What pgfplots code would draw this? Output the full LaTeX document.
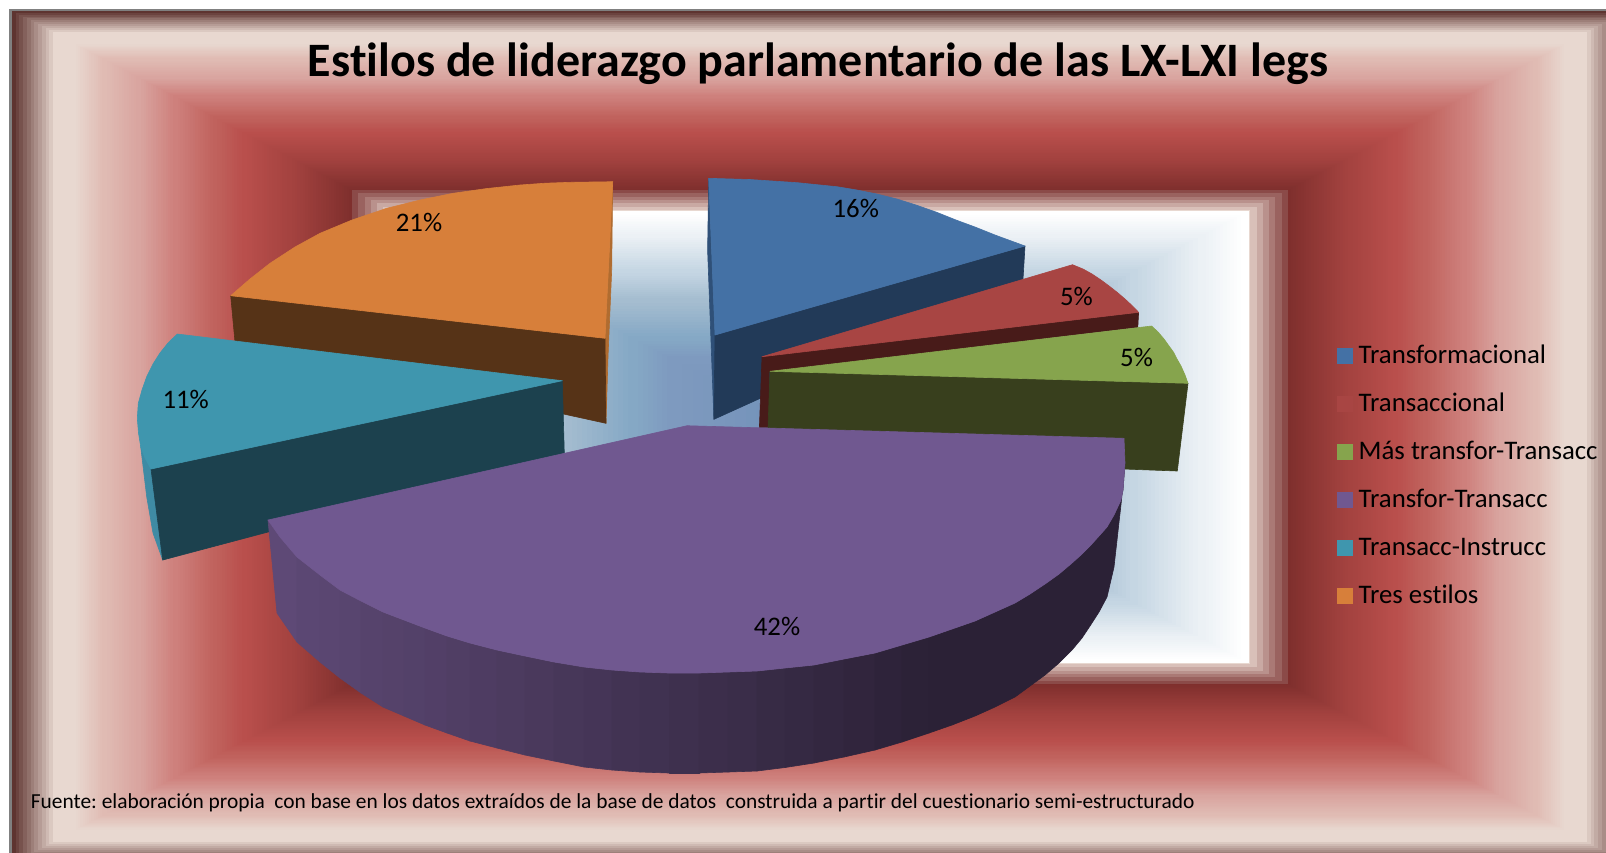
\documentclass[border=0pt]{standalone}
\usepackage{fontspec}
\setmainfont[Ligatures=NoCommon]{Carlito}
\usepackage{pgfplots}
\pgfplotsset{compat=1.18}
\definecolor{bg0}{HTML}{5E3430}\definecolor{bg1}{HTML}{E8D8D0}\definecolor{bg2}{HTML}{E0BBB3}
\definecolor{bg3}{HTML}{D9A5A0}\definecolor{bg4}{HTML}{CE807C}\definecolor{bg5}{HTML}{C0625D}
\definecolor{bg6}{HTML}{B94F4C}\definecolor{bg7}{HTML}{A54340}\definecolor{bg8}{HTML}{7F2F2D}
\definecolor{bg9}{HTML}{8B4A48}\definecolor{w0}{HTML}{FFFFFF}\definecolor{w1}{HTML}{ECF1F5}
\definecolor{w2}{HTML}{C5D6E3}\definecolor{w3}{HTML}{A5BDD0}\definecolor{w4}{HTML}{85A8C5}
\definecolor{w5}{HTML}{7E9ABF}\definecolor{w6}{HTML}{7090B8}
\definecolor{blueT}{HTML}{4471A5}\definecolor{blueS}{HTML}{223A58}\definecolor{blueD}{HTML}{2F5078}
\definecolor{redT}{HTML}{A84543}\definecolor{redS}{HTML}{481B19}
\definecolor{greenT}{HTML}{86A44D}\definecolor{greenS}{HTML}{383F1D}
\definecolor{purT}{HTML}{705890}\definecolor{purL}{HTML}{5E4976}\definecolor{purR}{HTML}{2B2136}
\definecolor{tealT}{HTML}{3F96AE}\definecolor{tealS}{HTML}{1C414E}\definecolor{tealD}{HTML}{3F8BA4}
\definecolor{oraT}{HTML}{D77F3A}\definecolor{oraS}{HTML}{563317}\definecolor{oraD}{HTML}{B06C30}
\pgfplotsset{pie/.style={draw=#1,fill=#1,line width=0.3pt,line join=round,forget plot,mark=none}}
\begin{document}
\frenchspacing
\begin{tikzpicture}
\path[use as bounding box] (0pt,0pt) rectangle (803pt,-426pt);
\begin{scope}[x=0.5pt,y=-0.5pt]
\clip (0,0) rectangle (1606,852);
\fill[white] (0,0) rectangle (1606,852);
\fill[black!50] (9,9) rectangle (1631,865);
\foreach \fa/\fb/\ca/\cb/\n in {
 0.0037/0.059/bg0/bg1/12, 0.059/0.08/bg1/bg1/1, 0.08/0.118/bg1/bg2/14, 0.118/0.16/bg2/bg3/14,
 0.16/0.205/bg3/bg4/15, 0.205/0.254/bg4/bg5/16, 0.254/0.29/bg5/bg6/12, 0.29/0.346/bg6/bg7/18,
 0.346/0.423/bg7/bg8/24, 0.423/0.477/bg9/bg1/7, 0.471/0.477/w0/w0/1,
 0.477/0.529/w0/w1/12, 0.529/0.613/w1/w2/16, 0.613/0.681/w2/w3/14, 0.681/0.77/w3/w4/14,
 0.77/0.817/w4/w5/8, 0.817/1.0/w5/w6/14}{
  \foreach \i in {1,...,\n}{
    \pgfmathsetmacro\f{\fa+(\fb-\fa)*(\i-1)/\n}
    \pgfmathsetmacro\m{100*(\i-1)/max(\n-1,1)}
    \fill[color=\cb!\m!\ca] ({9+811*\f},{9+428*\f}) rectangle ({1631-811*\f},{865-428*\f});
  }
}
\end{scope}
\begin{axis}[
  at={(0pt,0pt)},anchor=north west,scale only axis,width=803pt,height=426pt,
  xmin=0,xmax=1606,ymin=0,ymax=852,y dir=reverse,hide axis,clip=false,
  legend style={at={(axis cs:1336.5,345)},anchor=north west,draw=none,fill=none,inner sep=0pt,
    row sep=12pt,column sep=3pt,font=\fontsize{13.4}{14}\selectfont,
    nodes={inner sep=0pt,text height=9pt,text depth=3pt}},
  legend cell align=left,
  legend image code/.code={\fill[#1] (0pt,-2.75pt) rectangle (7.5pt,4.75pt);}]
\addlegendimage{blueT}\addlegendentry{Transformacional}
\addlegendimage{redT}\addlegendentry{Transaccional}
\addlegendimage{greenT}\addlegendentry{Más transfor-Transacc}
\addlegendimage{purT}\addlegendentry{Transfor-Transacc}
\addlegendimage{tealT}\addlegendentry{Transacc-Instrucc}
\addlegendimage{oraT}\addlegendentry{Tres estilos}
% orange
\addplot[pie=oraD] coordinates {(612.7,181.7)(611.7,270)(608,357)(606,423.3)(605,338.3)} -- cycle;
\addplot[pie=oraS] coordinates {(230.7,295.7)(235,342)(606,423.3)(605,338.3)} -- cycle;
\addplot[pie=oraT] coordinates {(605,338.3)(230.7,295.7)(250,279)(270,263.3)(295,247)(320,233.3)(352,220)(386.7,208.3)(420,200)(453,193.3)(487,188.5)(520,185)(545,183.2)(570,182.3)(612.7,181.7)} -- cycle;
% blue
\addplot[pie=blueD] coordinates {(708.7,178.3)(707.6,250)(713.9,419.3)(715,335)} -- cycle;
\addplot[pie=blueS] coordinates {(715,335)(1025,246)(1023,279.3)(713.9,419.3)} -- cycle;
\addplot[pie=blueT] coordinates {(715,335)(708.7,178.3)(750,179.5)(797.7,182.7)(837,186.7)(857,190)(877,194)(897,199)(916,205)(936,212)(956,220)(975,227)(995,235)(1025,246)} -- cycle;
% red
\addplot[pie=redS] coordinates {(762,356.7)(1138.6,312.3)(1137.8,327.3)(769,372)(769,427.3)(759.4,427.3)} -- cycle;
\addplot[pie=redT] coordinates {(762,356.7)(1072.5,264.7)(1083,269)(1092,274)(1101,280)(1110,286.7)(1118,293)(1125,299)(1132,305.5)(1138.6,312.3)} -- cycle;
% green
\addplot[pie=greenS] coordinates {(770,371.3)(1188,383.3)(1177.3,471)(1124,469)(768,427.5)} -- cycle;
\addplot[pie=greenT] coordinates {(770,371.3)(1151.6,326)(1158,332)(1164,339)(1169,346)(1173.4,352)(1177,359)(1181,366)(1185,375)(1188,383.3)} -- cycle;
% teal
\addplot[pie=tealD] coordinates {(140.7,446.7)(151,469)(162.7,560)(153,533)(146.7,496.7)} -- cycle;
\addplot[pie=tealS] coordinates {(151,469)(562.3,380.7)(564.3,453.3)(162.7,560)} -- cycle;
\addplot[pie=tealT] coordinates {(562.3,380.7)(177.3,334)(168,343)(160,353)(153,364)(146.7,376.7)(142,390)(138.3,403.3)(137.3,418.3)(138.5,433)(140.7,446.7)(145,458)(151,469)} -- cycle;
% purple side, left to right
\addplot[pie=purL] coordinates {(268,520)(277,613)(297,642)(297,557)(280,537)} -- cycle;
\addplot[pie=purR!5!purL] coordinates {(297,557)(320,575)(320,662)(297,642)} -- cycle;
\addplot[pie=purR!8!purL] coordinates {(320,575)(340,590)(340,678)(320,662)} -- cycle;
\addplot[pie=purR!11!purL] coordinates {(340,590)(361,601)(361,693)(340,678)} -- cycle;
\addplot[pie=purR!15!purL] coordinates {(361,601)(383,612)(383,707)(361,693)} -- cycle;
\addplot[pie=purR!18!purL] coordinates {(383,612)(404,620)(404,716)(383,707)} -- cycle;
\addplot[pie=purR!21!purL] coordinates {(404,620)(425,628)(425,725)(404,716)} -- cycle;
\addplot[pie=purR!24!purL] coordinates {(425,628)(447,636)(447,733)(425,725)} -- cycle;
\addplot[pie=purR!28!purL] coordinates {(447,636)(470,643)(470,741)(447,733)} -- cycle;
\addplot[pie=purR!32!purL] coordinates {(470,643)(497,650)(497,748)(470,741)} -- cycle;
\addplot[pie=purR!36!purL] coordinates {(497,650)(525,656)(525,755)(497,748)} -- cycle;
\addplot[pie=purR!40!purL] coordinates {(525,656)(554,662)(554,761)(525,755)} -- cycle;
\addplot[pie=purR!45!purL] coordinates {(554,662)(584,667)(584,767)(554,761)} -- cycle;
\addplot[pie=purR!49!purL] coordinates {(584,667)(612,670)(612,770)(584,767)} -- cycle;
\addplot[pie=purR!54!purL] coordinates {(612,670)(640,672)(640,772)(612,770)} -- cycle;
\addplot[pie=purR!58!purL] coordinates {(640,672)(669,673)(669,773)(640,772)} -- cycle;
\addplot[pie=purR!62!purL] coordinates {(669,673)(699,673)(699,773)(669,773)} -- cycle;
\addplot[pie=purR!67!purL] coordinates {(699,673)(728,672)(728,772)(699,773)} -- cycle;
\addplot[pie=purR!71!purL] coordinates {(728,672)(757,671)(757,771)(728,772)} -- cycle;
\addplot[pie=purR!76!purL] coordinates {(757,671)(785,668)(785,767.5)(757,771)} -- cycle;
\addplot[pie=purR!80!purL] coordinates {(785,668)(814,665)(814,763)(785,767.5)} -- cycle;
\addplot[pie=purR!85!purL] coordinates {(814,665)(844,659)(844,757)(814,763)} -- cycle;
\addplot[pie=purR!89!purL] coordinates {(844,659)(875,653)(875,750)(844,757)} -- cycle;
\addplot[pie=purR!94!purL] coordinates {(875,653)(902,645)(902,742)(875,750)} -- cycle;
\addplot[pie=purR!98!purL] coordinates {(902,645)(929,637)(929,733)(902,742)} -- cycle;
\addplot[pie=purR] coordinates {(929,637)(952,629)(975,621)(995,612)(1015,603)(1030,594)(1045,584)(1059,574)(1072,563)(1082,554)(1090,546)(1099,536)(1107,527)(1114,515)(1121,500)(1123,490)(1125,463)(1121.5,500)(1114,567)(1107,597)(1099,612)(1090,626)(1082,638)(1072,650)(1059,663)(1045,675)(1030,686)(1015,697)(995,707)(975,716)(952,725)(929,733)} -- cycle;
% purple top
\addplot[pie=purT] coordinates {(687,425.7)(1124,438.3)(1125,463)(1123,490)(1121,500)(1114,515)(1107,527)(1099,536)(1090,546)(1082,554)(1072,563)(1059,574)(1045,584)(1030,594)(1015,603)(995,612)(975,621)(952,629)(929,637)(902,645)(875,653)(844,659)(814,665)(785,668)(757,671)(728,672)(699,673)(669,673)(640,672)(612,670)(584,667)(554,662)(525,656)(497,650)(470,643)(447,636)(425,628)(404,620)(383,612)(361,601)(340,590)(320,575)(297,557)(280,537)(268,520)} -- cycle;
% labels
\node[font=\fontsize{13.4}{14}\selectfont] at (axis cs:855.8,208) {16\%};
\node[font=\fontsize{13.4}{14}\selectfont] at (axis cs:1076.5,296) {5\%};
\node[font=\fontsize{13.4}{14}\selectfont] at (axis cs:1136.6,357.7) {5\%};
\node[font=\fontsize{13.4}{14}\selectfont] at (axis cs:777,626) {42\%};
\node[font=\fontsize{13.4}{14}\selectfont] at (axis cs:419,222.7) {21\%};
\node[font=\fontsize{13.4}{14}\selectfont] at (axis cs:185.7,399.3) {11\%};
\node[font=\fontsize{24}{28}\selectfont\bfseries] at (axis cs:818,64) {Estilos de liderazgo parlamentario de las LX-LXI legs};
\node[anchor=west,inner sep=0pt,font=\fontsize{10.7}{12}\selectfont] at (axis cs:30.5,803) {Fuente: elaboración propia\ \ con base en los datos extraídos de la base de datos\ \ construida a partir del cuestionario semi-estructurado};
\end{axis}
\end{tikzpicture}
\end{document}
